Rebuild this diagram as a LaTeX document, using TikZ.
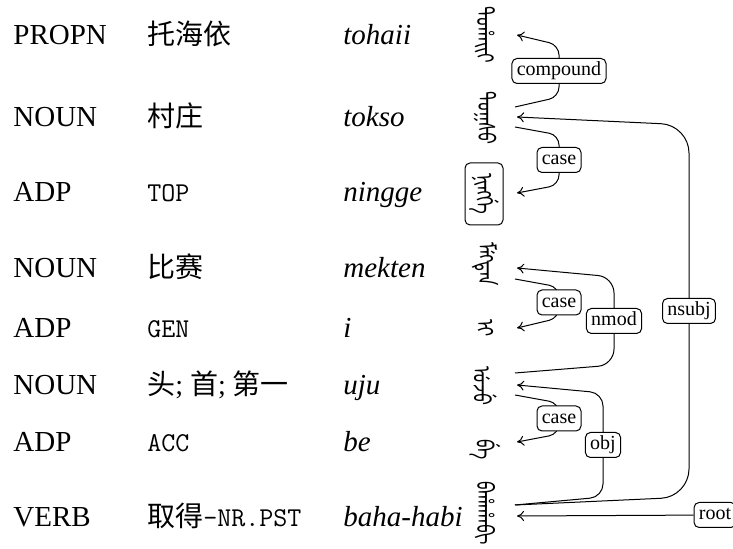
\documentclass[tikz,border=0pt]{standalone}
\usepackage{fontspec}
\setmainfont{Liberation Serif}
\newfontfamily\cjk{Noto Sans CJK SC}
\newfontlanguage{ManchuLang}{MCH}
\newfontfamily\manchu[Script=Mongolian,Language=ManchuLang]{Noto Sans Mongolian}
\newcommand\mncword[1]{\scalebox{0.72}[1]{#1}}
\usetikzlibrary{arrows.meta}
\begin{document}
\begin{tikzpicture}[x=0.5pt,y=-0.5pt,
  every node/.style={inner sep=0pt},
  postag/.style={anchor=base west, font=\rmfamily\fontsize{14.5}{17}\selectfont},
  zh/.style={anchor=base west, font=\fontsize{14}{17}\selectfont},
  gl/.style={anchor=base west, font=\ttfamily\fontsize{13.6}{16}\selectfont},
  tr/.style={anchor=base west, font=\itshape\fontsize{14.5}{17}\selectfont},
  mnc/.style={rotate=-90, font=\manchu\fontsize{12}{14}\selectfont},
  mncbox/.style={mnc, draw, rounded corners=2.5pt, minimum width=31pt, minimum height=19pt, line width=0.5pt},
  lbl/.style={draw, fill=white, rounded corners=2.5pt, font=\rmfamily\fontsize{10}{12}\selectfont,
    inner xsep=2.4pt, inner ysep=1.7pt, text height=6.9pt, text depth=2.2pt, line width=0.5pt},
  dep/.style={-{To[length=3.5pt,width=5pt]}, line width=0.5pt},
]
\useasboundingbox (0,0) rectangle (733,549);
% row 1
\node[postag] (p1) at (13,45) {PROPN};
\node[zh] (g1) at (147,45) {\cjk 托海依};
\node[tr] (t1) at (343,45) {tohaii};
\node[mnc] (m1) at (485,35) {\mncword{ᡨᠣᡥᠠᡳᡳ}};
% row 2
\node[postag] (p2) at (13,127) {NOUN};
\node[zh] (g2) at (147,127) {\cjk 村庄};
\node[tr] (t2) at (343,127) {tokso};
\node[mnc] (m2) at (485,118) {\mncword{ᡨᠣᡴᠰᠣ}};
% row 3
\node[postag] (p3) at (13,202) {ADP};
\node[gl] (g3) at (147,202) {TOP};
\node[tr] (t3) at (343,202) {ningge};
\node[mncbox] (m3) at (484,194) {\mncword{ᠨᡳᠩᡤᡝ}};
% row 4
\node[postag] (p4) at (13,278) {NOUN};
\node[zh] (g4) at (147,278) {\cjk 比赛};
\node[tr] (t4) at (343,278) {mekten};
\node[mnc] (m4) at (485,264) {\mncword{ᠮᡝᡴᡨᡝᠨ}};
% row 5
\node[postag] (p5) at (13,338) {ADP};
\node[gl] (g5) at (147,338) {GEN};
\node[tr] (t5) at (343,338) {i};
\node[mnc] (m5) at (485,328) {\mncword{ᡳ}};
% row 6
\node[postag] (p6) at (13,395) {NOUN};
\node[zh] (g6) at (147,395) {{\cjk 头}; {\cjk 首}; {\cjk 第一}};
\node[tr] (t6) at (343,395) {uju};
\node[mnc] (m6) at (485,386) {\mncword{ᡠᠵᡠ}};
% row 7
\node[postag] (p7) at (13,452) {ADP};
\node[gl] (g7) at (147,452) {ACC};
\node[tr] (t7) at (343,452) {be};
\node[mnc] (m7) at (485,450) {\mncword{ᠪᡝ}};
% row 8
\node[postag] (p8) at (13,526) {VERB};
\node[zh] (g8) at (147,526) {{\cjk 取得}{\ttfamily\fontsize{13.6}{16}\selectfont -NR.PST}};
\node[tr] (t8) at (343,526) {baha-habi};
\node[mnc] (m8) at (485,513) {\mncword{ᠪᠠᡥᠠᡥᠠᠪᡳ}};
% connector ends
\coordinate (i1) at (517,35);
\coordinate (i2) at (517,117);
\coordinate (i3) at (517,193);
\coordinate (i4) at (517,268);
\coordinate (i5) at (517,328);
\coordinate (i6) at (517,385);
\coordinate (i7) at (517,442);
\coordinate (i8) at (517,516);
\coordinate (o2a) at (515,107);
\coordinate (o2b) at (515,127);
\coordinate (o4) at (515,279);
\coordinate (o6a) at (515,373);
\coordinate (o6b) at (515,395);
\coordinate (o8) at (515,505);
% arcs
\draw[dep, rounded corners=5pt] (o2a) -- (559,97) -- node[lbl]{compound} (559,45) -- (i1);
\draw[dep, rounded corners=5pt] (o2b) -- (559,135) -- node[lbl]{case} (559,185) -- (i3);
\draw[dep, rounded corners=5pt] (o4) -- (559,287) -- node[lbl]{case} (559,318) -- (i5);
\draw[dep, rounded corners=8pt] (o6a) -- (614,365) -- node[lbl]{nmod} (614,277) -- (i4);
\draw[dep, rounded corners=5pt] (o6b) -- (559,403) -- node[lbl]{case} (559,434) -- (i7);
\draw[dep, rounded corners=6.5pt] (o8) -- (603,497) -- node[lbl]{obj} (603,393) -- (i6);
\draw[dep, rounded corners=14pt] (o8) -- (689,497) -- node[lbl]{nsubj} (689,125) -- (i2);
\node[lbl] (root) at (715,515) {root};
\draw[dep] (root) -- (i8);
\end{tikzpicture}
\end{document}
